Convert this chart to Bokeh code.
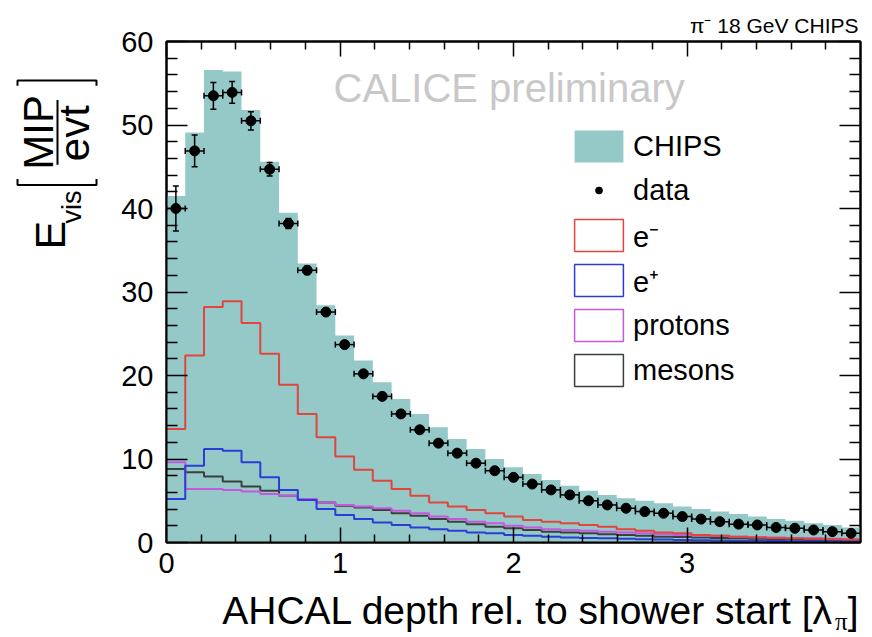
import numpy as np
from bokeh.plotting import figure
from bokeh.layouts import column, row
from bokeh.models import (Range1d, FixedTicker, LinearAxis, Label, Legend, LegendItem,
                          CustomJSTickFormatter)
from bokeh.core.properties import value
from bokeh.embed import file_html
from bokeh.resources import INLINE

# ---------------------------------------------------------------------------
# Longitudinal shower profile, pi- 18 GeV, 37 layers between 0 and 4 lambda_pi
# ---------------------------------------------------------------------------
x_lo, x_hi, n_bins = 0.0, 4.0, 37

chips = [41.5, 49.1, 56.6, 56.4, 51.8, 45.6, 39.5, 33.4, 28.4, 24.8,
         21.8, 19.2, 17.2, 15.4, 13.8, 12.4, 11.2, 10.0, 9.0, 8.2,
         7.5, 6.8, 6.2, 5.7, 5.3, 5.0, 4.7, 4.3, 4.0, 3.7,
         3.4, 3.1, 2.8, 2.6, 2.3, 2.1, 1.8]

data_vals = [40.0, 46.9, 53.5, 53.9, 50.5, 44.7, 38.2, 32.6, 27.6, 23.7,
             20.2, 17.5, 15.4, 13.5, 11.9, 10.7, 9.5, 8.6, 7.8, 7.0,
             6.3, 5.7, 5.0, 4.5, 4.1, 3.7, 3.5, 3.1, 2.8, 2.5,
             2.2, 2.1, 1.8, 1.7, 1.5, 1.3, 1.1]

data_errs = [2.7, 1.9, 1.6, 1.3, 1.1, 0.8, 0.6, 0.5, 0.4, 0.35,
             0.3, 0.3, 0.25, 0.25, 0.2, 0.2, 0.2, 0.2, 0.15, 0.15,
             0.15, 0.15, 0.15, 0.1, 0.1, 0.1, 0.1, 0.1, 0.1, 0.1,
             0.1, 0.1, 0.1, 0.1, 0.1, 0.1, 0.1]

e_minus = [13.6, 22.4, 28.2, 28.9, 26.3, 22.6, 18.9, 15.4, 12.6, 10.3,
           8.7, 7.4, 6.4, 5.6, 4.8, 4.3, 3.9, 3.5, 3.1, 2.7,
           2.5, 2.3, 2.1, 1.9, 1.6, 1.4, 1.2, 1.1, 0.9, 0.8,
           0.7, 0.6, 0.55, 0.5, 0.45, 0.4, 0.35]

e_plus = [5.2, 9.2, 11.2, 11.0, 9.6, 7.8, 6.3, 5.1, 4.0, 3.3,
          2.8, 2.4, 2.1, 1.8, 1.6, 1.4, 1.2, 1.1, 0.9, 0.8,
          0.7, 0.6, 0.55, 0.5, 0.45, 0.4, 0.35, 0.3, 0.28, 0.25,
          0.22, 0.2, 0.18, 0.16, 0.14, 0.12, 0.1]

protons = [9.6, 6.4, 6.4, 6.3, 6.1, 5.8, 5.6, 5.2, 4.8, 4.5,
           4.3, 4.1, 3.8, 3.5, 3.1, 2.8, 2.5, 2.3, 2.0, 1.8,
           1.6, 1.5, 1.4, 1.3, 1.2, 1.1, 1.0, 0.9, 0.85, 0.8,
           0.7, 0.65, 0.6, 0.55, 0.5, 0.45, 0.4]

mesons = [8.8, 8.4, 7.9, 7.3, 6.7, 6.2, 5.6, 5.2, 4.8, 4.4,
          4.2, 3.9, 3.5, 3.2, 2.8, 2.5, 2.2, 1.9, 1.7, 1.5,
          1.3, 1.2, 1.1, 1.0, 0.9, 0.8, 0.7, 0.65, 0.6, 0.55,
          0.5, 0.45, 0.4, 0.35, 0.3, 0.28, 0.25]

x_major = [0, 1, 2, 3]
x_labels = {0: "0", 1: "1", 2: "2", 3: "3"}
y_major = [0, 10, 20, 30, 40, 50, 60]

TEAL = "#94c9c8"
RED = "#e0463e"
BLUE = "#2a3ed6"
MAGENTA = "#c658e0"
GREY = "#3a403c"
FONT = "Liberation Sans"
MID = 0.35          # distance from baseline to the middle of the text box, in em

edges = np.linspace(x_lo, x_hi, n_bins + 1)
centers = 0.5 * (edges[:-1] + edges[1:])
half = 0.5 * (edges[1] - edges[0])


def closed(vals):
    return list(vals) + [vals[-1]]


# page layout (pixels): y-title column on the left, x-title strip at the
# bottom, main plot (with the run description as its title) on the right
W, H = 872, 637
BOT_H, LEFT_W = 47, 110
MID_H = H - BOT_H
FL, FR, FT, FB = 166, 860, 41, 542          # frame edges on the page

p = figure(width=W - LEFT_W, height=MID_H, x_range=Range1d(x_lo, x_hi), y_range=Range1d(0, 60),
           output_backend="svg", toolbar_location=None,
           min_border_left=FL - LEFT_W, min_border_right=W - FR,
           min_border_top=FT, min_border_bottom=MID_H - FB)
p.background_fill_color = "white"
p.border_fill_color = "white"
p.grid.visible = False
p.outline_line_color = "black"
p.outline_line_width = 2

# run description above the frame, right aligned
p.title.text = "\u03c0\u207b 18 GeV CHIPS"
p.title.align = "right"
p.title.text_font = FONT
p.title.text_font_size = "21px"
p.title.text_font_style = "normal"
p.title.text_color = "black"
p.title.standoff = 9
p.title.offset = 2

x_ticker = FixedTicker(ticks=x_major,
                       minor_ticks=[round(0.2 * i, 1) for i in range(21) if i % 5])
y_ticker = FixedTicker(ticks=y_major, minor_ticks=[v for v in range(0, 61, 2) if v % 10])


def style_axis(ax, ticker, tin, tmin, labels=True):
    ax.ticker = ticker
    ax.axis_line_color = "black"
    ax.axis_line_width = 2
    ax.major_tick_line_color = "black"
    ax.major_tick_line_width = 1.5
    ax.minor_tick_line_color = "black"
    ax.minor_tick_line_width = 1.5
    ax.major_tick_in = tin
    ax.major_tick_out = 0
    ax.minor_tick_in = tmin
    ax.minor_tick_out = 0
    ax.major_label_text_font = FONT
    ax.major_label_text_font_size = "29px"
    ax.major_label_text_color = "black"
    if not labels:
        ax.formatter = CustomJSTickFormatter(code="return ''")
        ax.major_label_standoff = 0


style_axis(p.xaxis[0], x_ticker, 15, 8)
p.xaxis[0].major_label_overrides = x_labels
p.xaxis[0].major_label_standoff = 10
style_axis(p.yaxis[0], y_ticker, 21, 11)
p.yaxis[0].major_label_standoff = 13

top_ax = LinearAxis()
style_axis(top_ax, x_ticker, 15, 8, labels=False)
p.add_layout(top_ax, "above")
right_ax = LinearAxis()
style_axis(right_ax, y_ticker, 21, 11, labels=False)
p.add_layout(right_ax, "right")

# CHIPS simulation as filled histogram
p.varea_step(x=edges, y1=np.zeros(n_bins + 1), y2=closed(chips), step_mode="after",
             fill_color=TEAL)

# particle-type contributions as outlined histograms
for vals, col in [(mesons, GREY), (protons, MAGENTA), (e_plus, BLUE), (e_minus, RED)]:
    p.step(x=edges, y=closed(vals), mode="after", line_color=col, line_width=2)

# legend swatches: degenerate boxes at the origin, hidden under the axes
sw_chips = p.quad(left=[x_lo], right=[x_lo], top=[0], bottom=[0],
                  fill_color=TEAL, line_color=None)
sw_lines = []
for col in [RED, BLUE, MAGENTA, GREY]:
    sw_lines.append(p.quad(left=[x_lo], right=[x_lo], top=[0], bottom=[0],
                           fill_color=None, line_color=col, line_width=1.5))
sw_data = p.scatter(x=[centers[0]], y=[data_vals[0]], size=7,
                    fill_color="black", line_color="black")

# data points with error bars
dv = np.array(data_vals)
de = np.array(data_errs)
p.segment(x0=centers - half, y0=dv, x1=centers + half, y1=dv, line_color="black", line_width=1.5)
p.segment(x0=centers, y0=dv - de, x1=centers, y1=dv + de, line_color="black", line_width=1.5)
p.scatter(x=np.concatenate([centers - half, centers + half]), y=np.concatenate([dv, dv]),
          marker="dash", angle=np.pi / 2, size=6, line_color="black", line_width=1.5)
p.scatter(x=np.concatenate([centers, centers]), y=np.concatenate([dv - de, dv + de]),
          marker="dash", size=6, line_color="black", line_width=1.5)
p.scatter(x=centers, y=dv, size=10, fill_color="black", line_color="black")


def make_legend(items, loc, gw, gh, standoff):
    lg = Legend(items=items, location=loc, glyph_width=gw, glyph_height=gh,
                label_standoff=standoff, spacing=5, padding=0, margin=0,
                border_line_color=None, background_fill_alpha=0,
                label_text_font=FONT, label_text_font_size="29px",
                label_text_color="black")
    p.add_layout(lg)


make_legend([LegendItem(label="CHIPS", renderers=[sw_chips])], (402, 376), 61, 40, 4)
make_legend([LegendItem(label="data", renderers=[sw_data])], (424, 332), 17, 40, 26)
make_legend([LegendItem(label="e\u207b", renderers=[sw_lines[0]]),
             LegendItem(label="e\u207a", renderers=[sw_lines[1]]),
             LegendItem(label="protons", renderers=[sw_lines[2]]),
             LegendItem(label="mesons", renderers=[sw_lines[3]])], (402, 152), 61, 40, 4)

# preliminary tag inside the frame (baseline at page y = 101)
p.add_layout(Label(x=333 - FL, y=FB - (101 - MID * 40), x_units="screen", y_units="screen",
                   text="CALICE preliminary", text_font=FONT, text_font_size="40px",
                   text_color="#c8c8c8", text_baseline="middle"))


def strip(w, h):
    f = figure(width=w, height=h, x_range=Range1d(0, w), y_range=Range1d(0, h),
               x_axis_type=None, y_axis_type=None, output_backend="svg",
               toolbar_location=None, min_border=0)
    f.outline_line_color = None
    f.grid.visible = False
    f.background_fill_color = "white"
    f.border_fill_color = "white"
    return f


def put(f, y0, text, cx, cy, size, align="left", font=FONT):
    """Horizontal text whose baseline sits at page position (cx, cy)."""
    f.text(x=[cx], y=[y0 - (cy - MID * size)], text=[text], text_align=align,
           text_baseline="middle", text_font=value(font),
           text_font_size=value(f"{size}px"), text_color="black")


def put_up(f, y0, text, bx, cy, size):
    """Text rotated to read upwards: baseline at page x = bx, centred on page y = cy."""
    f.text(x=[bx - MID * size], y=[y0 - cy], text=[text], angle=np.pi / 2,
           text_align="center", text_baseline="middle", text_font=value(FONT),
           text_font_size=value(f"{size}px"), text_color="black")


# bottom strip: x-axis title with subscripted lambda_pi
bot = strip(W, BOT_H)
put(bot, H, "]", 858, 624, 39, align="right")
put(bot, H, "\u03c0", 847, 630, 25, align="right", font="Liberation Serif")
put(bot, H, "AHCAL depth rel. to shower start [\u03bb", 833, 624, 39, align="right")

# left column: rotated y-axis title  E_vis [MIP / evt]
left = strip(LEFT_W, MID_H)
y_base = MID_H
put_up(left, y_base, "E", 65, 228, 43)
put_up(left, y_base, "vis", 81, 195, 27)
put_up(left, y_base, "MIP", 53, 107, 42)
put_up(left, y_base, "evt", 89, 108, 42)
for xs, ys in [([57, 57], [69, 145]),
               ([17, 17, 96, 96], [162, 169, 169, 162]),
               ([17, 17, 96, 96], [52, 46, 46, 52])]:
    left.line(x=xs, y=[y_base - v for v in ys], line_color="black", line_width=2)

layout = column(row(left, p), bot)
open("out.html", "w").write(file_html(layout, INLINE))
